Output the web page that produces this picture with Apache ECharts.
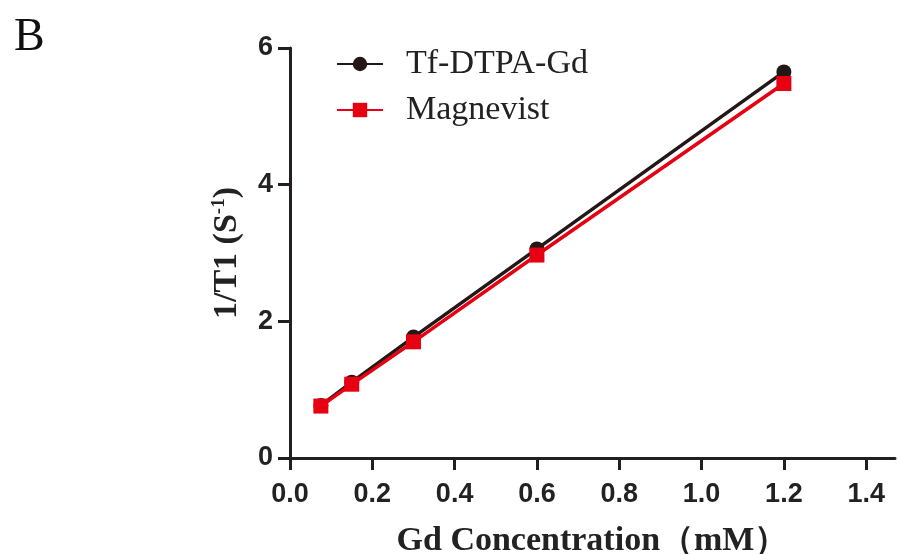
<!DOCTYPE html>
<html>
<head>
<meta charset="utf-8">
<script src="https://cdn.jsdelivr.net/npm/echarts@6/dist/echarts.min.js"></script>
<style>
  html, body { margin: 0; padding: 0; background: #fff; }
  #main { width: 898px; height: 554px; }
</style>
</head>
<body>
<div id="main"></div>
<script>
var concentration = [0.075, 0.15, 0.3, 0.6, 1.2];
var tfDtpaGd = [0.77, 1.11, 1.77, 3.06, 5.65];
var magnevist = [0.76, 1.08, 1.70, 2.97, 5.48];
var seriesNames = ['Tf-DTPA-Gd', 'Magnevist'];
var xTicks = [0, 0.2, 0.4, 0.6, 0.8, 1.0, 1.2, 1.4];

function pairs(xs, ys) {
  var out = [];
  for (var i = 0; i < xs.length; i++) out.push([xs[i], ys[i]]);
  return out;
}

var chart = echarts.init(document.getElementById('main'));
var axisColor = '#231f20';

var option = {
  animation: false,
  backgroundColor: '#fff',
  title: {
    text: 'B',
    left: 14,
    top: 15,
    padding: 0,
    textStyle: { fontFamily: 'Liberation Serif', fontWeight: 'normal', fontSize: 46, color: '#111' }
  },
  legend: {
    left: 336,
    top: 47,
    padding: 0,
    orient: 'vertical',
    itemGap: 12,
    itemWidth: 46,
    itemHeight: 18,
    data: seriesNames,
    textStyle: { fontFamily: 'Liberation Serif', fontSize: 34, color: '#222', padding: [0, 0, 0, 18] }
  },
  grid: { left: 290, right: 3, top: 48, bottom: 96, containLabel: false, outerBoundsMode: 'none' },
  xAxis: {
    type: 'value',
    min: 0,
    max: 1.47,
    name: 'Gd Concentration（mM）',
    nameLocation: 'middle',
    nameGap: 66,
    nameTextStyle: { fontFamily: 'Liberation Serif', fontWeight: 'bold', fontSize: 34, color: '#222' },
    axisLine: { lineStyle: { color: axisColor, width: 3 } },
    axisTick: { length: 12, customValues: xTicks, lineStyle: { color: axisColor, width: 3 } },
    axisLabel: {
      margin: 23,
      customValues: xTicks,
      fontFamily: 'Liberation Sans', fontWeight: 'bold', fontSize: 27, color: '#222',
      formatter: function (v) { return v.toFixed(1); }
    },
    splitLine: { show: false }
  },
  yAxis: {
    type: 'value',
    min: 0,
    max: 6,
    interval: 2,
    name: '{a|1/T1 (S}{s|-1}{a|)}',
    nameLocation: 'middle',
    nameGap: 46,
    nameTextStyle: {
      rich: {
        a: { fontFamily: 'Liberation Serif', fontWeight: 'bold', fontSize: 34, color: '#222' },
        s: { fontFamily: 'Liberation Serif', fontWeight: 'bold', fontSize: 19, color: '#222', verticalAlign: 'top', padding: [0, 0, 14, 0] }
      }
    },
    axisLine: { show: true, lineStyle: { color: axisColor, width: 3 } },
    axisTick: { show: true, length: 12, lineStyle: { color: axisColor, width: 3 } },
    axisLabel: {
      margin: 17,
      fontFamily: 'Liberation Sans', fontWeight: 'bold', fontSize: 27, color: '#222'
    },
    splitLine: { show: false }
  },
  series: [
    {
      name: seriesNames[0],
      type: 'line',
      data: pairs(concentration, tfDtpaGd),
      symbol: 'circle',
      symbolSize: 15,
      itemStyle: { color: '#231815' },
      lineStyle: { color: '#231815', width: 3.5 },
      z: 2
    },
    {
      name: seriesNames[1],
      type: 'line',
      data: pairs(concentration, magnevist),
      symbol: 'rect',
      symbolSize: 15,
      itemStyle: { color: '#e60012' },
      lineStyle: { color: '#e60012', width: 3.5 },
      z: 3
    }
  ]
};

chart.setOption(option);
</script>
</body>
</html>
